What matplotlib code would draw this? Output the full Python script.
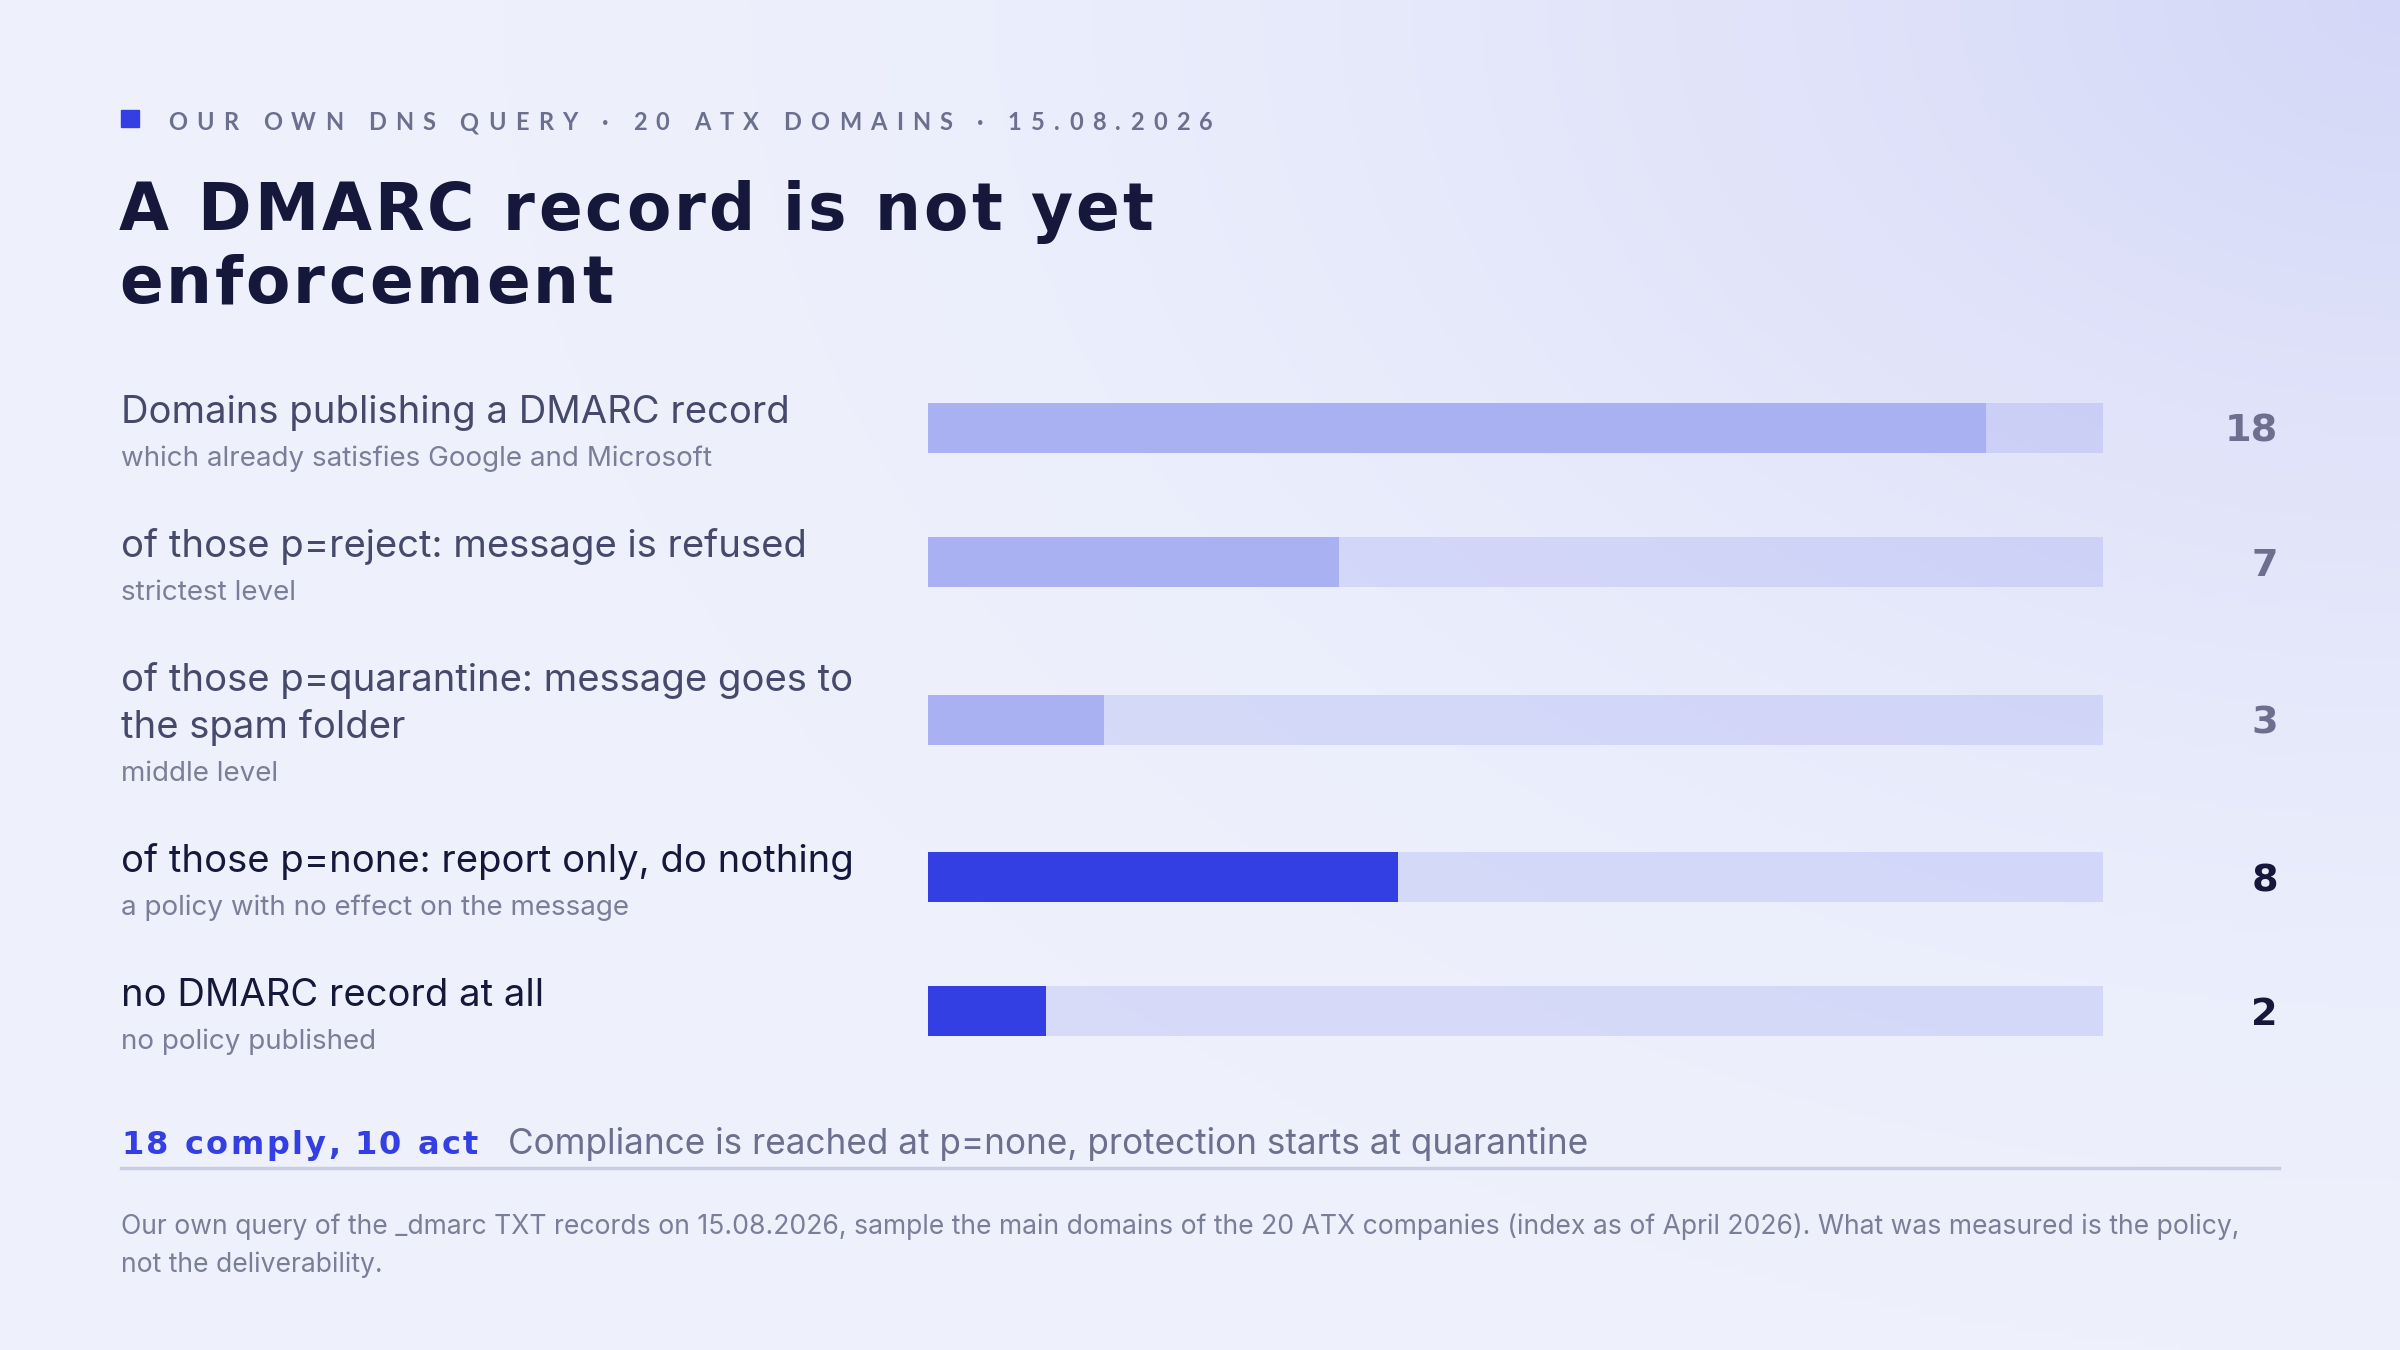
import numpy as np
import matplotlib
matplotlib.use('Agg')
import matplotlib.pyplot as plt
from matplotlib.font_manager import FontProperties

# chart content
kicker = 'OUR OWN DNS QUERY · 20 ATX DOMAINS · 15.08.2026'
title_lines = ['A DMARC record is not yet', 'enforcement']
labels = ['Domains publishing a DMARC record',
          'of those p=reject: message is refused',
          'of those p=quarantine: message goes to\nthe spam folder',
          'of those p=none: report only, do nothing',
          'no DMARC record at all']
sublabels = ['which already satisfies Google and Microsoft',
             'strictest level',
             'middle level',
             'a policy with no effect on the message',
             'no policy published']
values = [18, 7, 3, 8, 2]
total = 20
highlight = [False, False, False, True, True]
takeaway_key = '18 comply, 10 act'
takeaway_text = 'Compliance is reached at p=none, protection starts at quarantine'
note = ('Our own query of the _dmarc TXT records on 15.08.2026, sample the main domains of the 20 ATX '
        'companies (index as of April 2026). What was measured is the policy,\nnot the deliverability.')

BLUE = '#333ee3'
SOFT = '#a9b1f2'
NAVY = '#15173b'
GRAY = '#6c6f8e'
LABEL_GRAY = '#46496a'
SUB_GRAY = '#7b7e98'
BODY = 'Inter'

W, H = 2400, 1350
fig = plt.figure(figsize=(24, 13.5), dpi=100)

# background with a soft glow in the top right corner
ax = fig.add_axes([0, 0, 1, 1])
yy, xx = np.mgrid[0:H:4, 0:W:4]
d = np.sqrt((W - xx) ** 2 + (yy * 1.4) ** 2) / 1900
w = np.clip(1 - d, 0, 1) ** 1.6
base = np.array([238, 241, 252]) / 255
glow = np.array([212, 215, 247]) / 255
img = base * (1 - w[..., None]) + glow * w[..., None]
ax.imshow(img, extent=[0, W, H, 0], aspect='auto', zorder=0)
ax.set_xlim(0, W)
ax.set_ylim(H, 0)
ax.axis('off')

renderer = fig.canvas.get_renderer()


def text_width(s, fp):
    bar = renderer.get_text_width_height_descent('|', fp, ismath=False)[0]
    return renderer.get_text_width_height_descent(s + '|', fp, ismath=False)[0] - bar


def spaced_text(x, y, s, fp, spacing, color):
    for i, ch in enumerate(s):
        if ch == ' ':
            continue
        ax.text(x + text_width(s[:i], fp) + i * spacing, y, ch, fontproperties=fp,
                color=color, va='baseline', ha='left', zorder=3)
    return x + text_width(s, fp) + (len(s) - 1) * spacing


# header
ax.add_patch(plt.Rectangle((121, 110), 18, 17, color=BLUE, zorder=3))
kicker_fp = FontProperties(family='Lato', weight='bold', size=17)
spaced_text(168, 130, kicker, kicker_fp, 9.3, GRAY)

title_fp = FontProperties(family='DejaVu Sans', weight='bold', size=46.5)
for j, line in enumerate(title_lines):
    spaced_text(119, 230 + j * 73, line, title_fp, 3, NAVY)

# rows
LINE = 47
n_lines = [lab.count('\n') + 1 for lab in labels]
heights = [134 + LINE * (n - 1) for n in n_lines]
centers = []
c = 428
for i, h in enumerate(heights):
    if i:
        c += (heights[i - 1] + h) / 2
    centers.append(c)

main_fp = FontProperties(family=BODY, size=27.5)
sub_fp = FontProperties(family=BODY, size=20)
val_fp = FontProperties(family='DejaVu Sans', weight='bold', size=27.5)

for i, lab in enumerate(labels):
    col = NAVY if highlight[i] else LABEL_GRAY
    lines = lab.split('\n')
    first = centers[i] - 5 - (len(lines) - 1) * LINE / 2
    for j, line in enumerate(lines):
        ax.text(121, first + j * LINE, line, fontproperties=main_fp, color=col,
                va='baseline', ha='left', zorder=3)
    ax.text(121, first + (len(lines) - 1) * LINE + 43, sublabels[i], fontproperties=sub_fp,
            color=SUB_GRAY, va='baseline', ha='left', zorder=3)
    ax.text(2278, centers[i] + 14, str(values[i]), fontproperties=val_fp,
            color=NAVY if highlight[i] else GRAY, va='baseline', ha='right', zorder=3)

bar_ax = fig.add_axes([928 / W, 0, (2103 - 928) / W, 1])
bar_ax.set_xlim(0, total)
bar_ax.set_ylim(H, 0)
bar_ax.axis('off')
bar_ax.patch.set_alpha(0)
bar_ax.barh(centers, [total] * len(values), height=50, color=BLUE, alpha=0.12, linewidth=0)
bar_ax.barh(centers, values, height=50, color=[BLUE if h else SOFT for h in highlight], linewidth=0)

# takeaway and note
key_fp = FontProperties(family='DejaVu Sans', weight='bold', size=23)
end = spaced_text(121, 1154, takeaway_key, key_fp, 2.5, BLUE)
ax.text(end + 30, 1154, takeaway_text, fontproperties=FontProperties(family=BODY, size=25.3),
        color=GRAY, va='baseline', ha='left', zorder=3)
ax.plot([121, 2279], [1168, 1168], color='#c9cce2', lw=2.5, zorder=2)
note_fp = FontProperties(family=BODY, size=19.1)
for j, line in enumerate(note.split('\n')):
    ax.text(121, 1234 + j * 38, line, fontproperties=note_fp,
            color=SUB_GRAY, va='baseline', ha='left', zorder=3)

fig.savefig('out.png', dpi=100)
